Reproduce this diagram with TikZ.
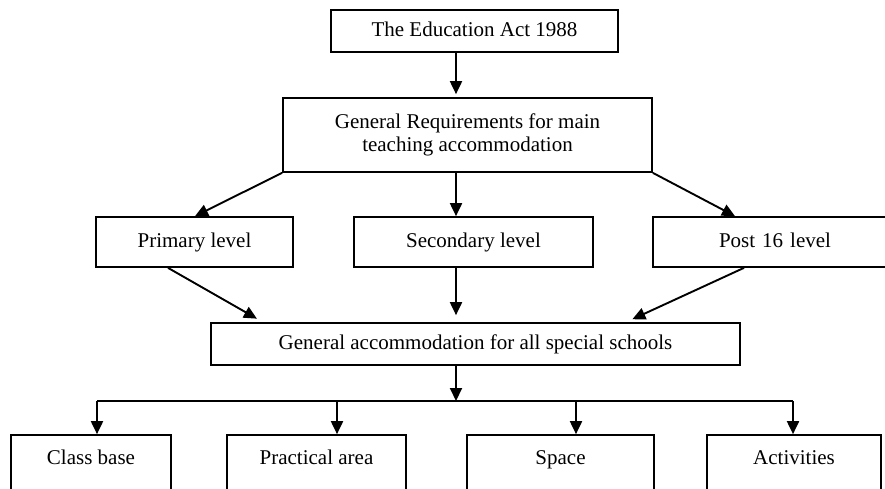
\documentclass[tikz,border=0pt]{standalone}
\usepackage{fontspec}
\setmainfont{Liberation Serif}
\usetikzlibrary{arrows.meta,calc}
\begin{document}
\begin{tikzpicture}[x=1pt,y=-1pt,
  box/.style={draw,line width=1.7pt,inner sep=0pt,align=center,font=\fontsize{21}{23}\selectfont},
  one/.style={text height=14pt,text depth=4pt},
  lbl/.style={inner sep=0pt,font=\fontsize{21}{23}\selectfont,text height=14pt,text depth=4pt},
  arr/.style={line width=1.9pt,-{Triangle[length=13pt,width=12pt]}},
  ln/.style={line width=1.9pt}]
\useasboundingbox (0,0) rectangle (885,488);
\clip (0,0) rectangle (885,488);
\node[box,one,minimum width=287,minimum height=42] (act) at (474.5,31) {The Education Act 1988};
\node[box,minimum width=369,minimum height=74] (req) at (467.5,135) {General Requirements for main\\teaching accommodation};
\node[box,one,minimum width=197,minimum height=50] (pri) at (194.5,242) {Primary level};
\node[box,one,minimum width=239,minimum height=50] (sec) at (473.5,242) {Secondary level};
\node[box,one,minimum width=244,minimum height=50,text width=244,align=left] (post) at (775,242) {\hspace*{66pt}Post 16 level};
\node[box,one,minimum width=529,minimum height=42] (gen) at (475.5,344) {General accommodation for all special schools};
\node[box,minimum width=160,minimum height=80] (cb) at (91,475) {};
\node[box,minimum width=179,minimum height=80] (pa) at (316.5,475) {};
\node[box,minimum width=187,minimum height=80] (sp) at (560.5,475) {};
\node[box,minimum width=174,minimum height=80] (ac) at (794,475) {};
\node[lbl] (cbt) at ($(cb.north)+(0,25.5)$) {Class base};
\node[lbl] (pat) at ($(pa.north)+(0,25.5)$) {Practical area};
\node[lbl] (spt) at ($(sp.north)+(0,25.5)$) {Space};
\node[lbl] (act2) at ($(ac.north)+(0,25.5)$) {Activities};
% connectors
\draw[arr,shorten >=3pt] (act.south -| 456,0) -- (req.north -| 456,0);
\draw[arr] (req.south west) -- (pri.north -| 195,0);
\draw[arr] (req.south -| 456,0) -- (sec.north -| 456,0);
\draw[arr] (req.south east) -- (post.north -| 735,0);
\draw[arr,shorten >=7pt] (pri.south -| 168,0) -- (gen.north -| 263,0);
\draw[arr,shorten >=7pt] (sec.south -| 456,0) -- (gen.north -| 456,0);
\draw[arr,shorten >=7pt] (post.south -| 744,0) -- (gen.north -| 626,0);
\coordinate (j) at (456,401);
\coordinate (jl) at (97,401);
\coordinate (jr) at (793,401);
\draw[arr] (gen.south -| j) -- (j);
\draw[ln] (jl) -- (jr);
\draw[arr] (jl) -- (cb.north -| jl);
\draw[arr] (337,401) -- (pa.north -| 337,0);
\draw[arr] (576,401) -- (sp.north -| 576,0);
\draw[arr] (jr) -- (ac.north -| jr);
\end{tikzpicture}
\end{document}
